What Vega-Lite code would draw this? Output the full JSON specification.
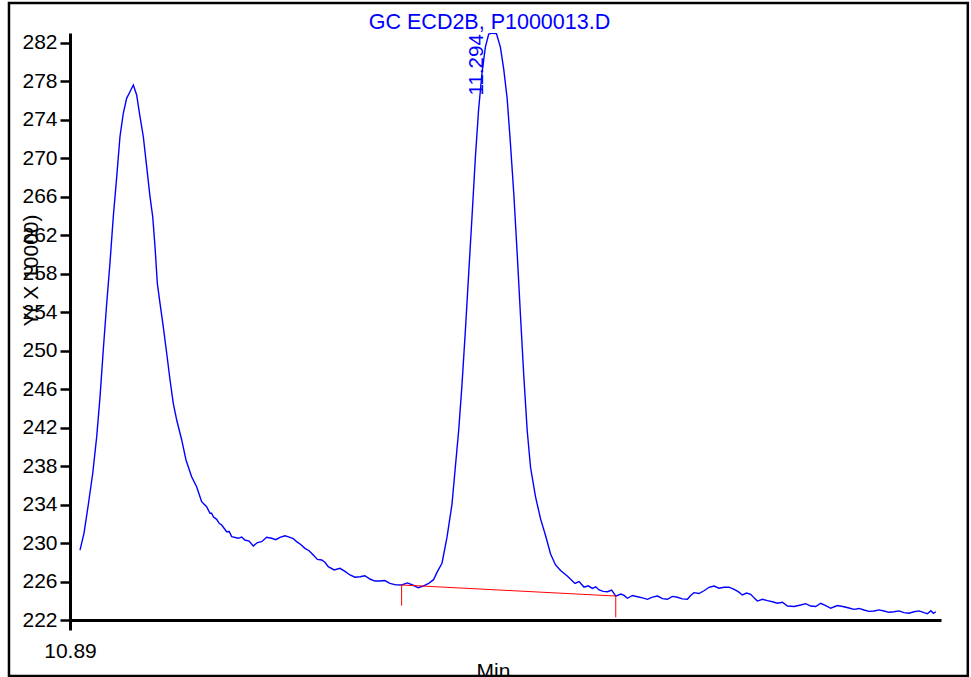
{
  "$schema": "https://vega.github.io/schema/vega-lite/v6.json",
  "width": 871,
  "height": 587,
  "autosize": "none",
  "padding": {"left": 70, "top": 33, "right": 30, "bottom": 57},
  "background": "white",
  "config": {"view": {"stroke": null}, "font": "Liberation Sans"},
  "resolve": {"axis": {"x": "independent"}},
  "datasets": {
    "signal": [
      {"t": 10.8996, "v": 229.27}, {"t": 10.9034, "v": 231.01}, {"t": 10.9075, "v": 233.95}, {"t": 10.9118, "v": 237.25},
      {"t": 10.9156, "v": 241.05}, {"t": 10.9188, "v": 245.21}, {"t": 10.9219, "v": 250.06}, {"t": 10.9252, "v": 254.91},
      {"t": 10.9283, "v": 259.07}, {"t": 10.9315, "v": 263.91}, {"t": 10.9348, "v": 268.07}, {"t": 10.9379, "v": 272.22},
      {"t": 10.9411, "v": 274.66}, {"t": 10.9443, "v": 276.21}, {"t": 10.9475, "v": 276.90}, {"t": 10.9507, "v": 277.60},
      {"t": 10.9539, "v": 276.56}, {"t": 10.9571, "v": 274.30}, {"t": 10.9603, "v": 272.22}, {"t": 10.9635, "v": 269.11},
      {"t": 10.9667, "v": 265.99}, {"t": 10.9693, "v": 263.91}, {"t": 10.9715, "v": 260.79}, {"t": 10.9737, "v": 256.99},
      {"t": 10.9763, "v": 254.91}, {"t": 10.9794, "v": 252.48}, {"t": 10.9827, "v": 249.72}, {"t": 10.9859, "v": 246.94},
      {"t": 10.9890, "v": 244.52}, {"t": 10.9923, "v": 242.78}, {"t": 10.9971, "v": 240.71}, {"t": 11.0012, "v": 238.63},
      {"t": 11.0066, "v": 236.89}, {"t": 11.0114, "v": 235.85}, {"t": 11.0162, "v": 234.29}, {"t": 11.0210, "v": 233.77},
      {"t": 11.0242, "v": 233.09}, {"t": 11.0258, "v": 233.10}, {"t": 11.0274, "v": 232.73}, {"t": 11.0306, "v": 232.46},
      {"t": 11.0330, "v": 232.05}, {"t": 11.0354, "v": 231.87}, {"t": 11.0402, "v": 231.18}, {"t": 11.0426, "v": 231.20},
      {"t": 11.0450, "v": 230.66}, {"t": 11.0513, "v": 230.49}, {"t": 11.0545, "v": 230.62}, {"t": 11.0577, "v": 230.31},
      {"t": 11.0617, "v": 230.20}, {"t": 11.0657, "v": 229.69}, {"t": 11.0697, "v": 230.05}, {"t": 11.0737, "v": 230.14},
      {"t": 11.0785, "v": 230.60}, {"t": 11.0833, "v": 230.49}, {"t": 11.0873, "v": 230.35}, {"t": 11.0913, "v": 230.59},
      {"t": 11.0961, "v": 230.75}, {"t": 11.1009, "v": 230.59}, {"t": 11.1041, "v": 230.45}, {"t": 11.1073, "v": 230.14},
      {"t": 11.1112, "v": 229.85}, {"t": 11.1152, "v": 229.45}, {"t": 11.1192, "v": 229.20}, {"t": 11.1232, "v": 228.75},
      {"t": 11.1272, "v": 228.30}, {"t": 11.1313, "v": 228.24}, {"t": 11.1344, "v": 228.00}, {"t": 11.1376, "v": 227.54},
      {"t": 11.1432, "v": 227.20}, {"t": 11.1488, "v": 227.37}, {"t": 11.1536, "v": 227.05}, {"t": 11.1584, "v": 226.68},
      {"t": 11.1632, "v": 226.45}, {"t": 11.1680, "v": 226.50}, {"t": 11.1727, "v": 226.60}, {"t": 11.1775, "v": 226.26},
      {"t": 11.1823, "v": 226.05}, {"t": 11.1871, "v": 226.05}, {"t": 11.1919, "v": 226.10}, {"t": 11.1967, "v": 225.81},
      {"t": 11.2023, "v": 225.65}, {"t": 11.2079, "v": 225.64}, {"t": 11.2135, "v": 225.85}, {"t": 11.2190, "v": 225.61},
      {"t": 11.2238, "v": 225.35}, {"t": 11.2286, "v": 225.53}, {"t": 11.2338, "v": 225.80}, {"t": 11.2385, "v": 226.19},
      {"t": 11.2418, "v": 226.95}, {"t": 11.2466, "v": 227.90}, {"t": 11.2514, "v": 230.58}, {"t": 11.2562, "v": 234.03},
      {"t": 11.2594, "v": 237.87}, {"t": 11.2626, "v": 241.69}, {"t": 11.2657, "v": 246.30}, {"t": 11.2690, "v": 252.03},
      {"t": 11.2721, "v": 257.79}, {"t": 11.2754, "v": 263.91}, {"t": 11.2786, "v": 270.04}, {"t": 11.2817, "v": 275.02},
      {"t": 11.2850, "v": 278.85}, {"t": 11.2882, "v": 281.54}, {"t": 11.2914, "v": 282.88}, {"t": 11.2946, "v": 282.98},
      {"t": 11.2988, "v": 282.95}, {"t": 11.3026, "v": 281.54}, {"t": 11.3058, "v": 279.24}, {"t": 11.3091, "v": 276.17},
      {"t": 11.3122, "v": 271.57}, {"t": 11.3155, "v": 266.21}, {"t": 11.3187, "v": 260.09}, {"t": 11.3219, "v": 253.57},
      {"t": 11.3250, "v": 247.44}, {"t": 11.3283, "v": 241.69}, {"t": 11.3315, "v": 237.87}, {"t": 11.3363, "v": 234.80},
      {"t": 11.3411, "v": 232.51}, {"t": 11.3459, "v": 230.78}, {"t": 11.3507, "v": 228.86}, {"t": 11.3555, "v": 227.72},
      {"t": 11.3603, "v": 227.14}, {"t": 11.3667, "v": 226.57}, {"t": 11.3741, "v": 225.80}, {"t": 11.3780, "v": 225.99},
      {"t": 11.3828, "v": 225.42}, {"t": 11.3868, "v": 225.55}, {"t": 11.3908, "v": 225.29}, {"t": 11.3940, "v": 225.45},
      {"t": 11.3972, "v": 225.12}, {"t": 11.4012, "v": 224.98}, {"t": 11.4053, "v": 224.94}, {"t": 11.4093, "v": 225.10},
      {"t": 11.4132, "v": 224.49}, {"t": 11.4180, "v": 224.70}, {"t": 11.4212, "v": 224.55}, {"t": 11.4244, "v": 224.26},
      {"t": 11.4292, "v": 224.55}, {"t": 11.4340, "v": 224.42}, {"t": 11.4388, "v": 224.30}, {"t": 11.4436, "v": 224.15},
      {"t": 11.4484, "v": 224.38}, {"t": 11.4532, "v": 224.49}, {"t": 11.4580, "v": 224.22}, {"t": 11.4627, "v": 224.15},
      {"t": 11.4675, "v": 224.45}, {"t": 11.4723, "v": 224.36}, {"t": 11.4771, "v": 224.20}, {"t": 11.4819, "v": 224.15},
      {"t": 11.4850, "v": 224.55}, {"t": 11.4882, "v": 224.84}, {"t": 11.4930, "v": 224.75}, {"t": 11.4978, "v": 225.04},
      {"t": 11.5026, "v": 225.40}, {"t": 11.5074, "v": 225.53}, {"t": 11.5122, "v": 225.30}, {"t": 11.5170, "v": 225.40},
      {"t": 11.5218, "v": 225.42}, {"t": 11.5266, "v": 225.19}, {"t": 11.5306, "v": 224.95}, {"t": 11.5346, "v": 224.60},
      {"t": 11.5386, "v": 224.80}, {"t": 11.5426, "v": 224.67}, {"t": 11.5458, "v": 224.30}, {"t": 11.5490, "v": 223.97},
      {"t": 11.5538, "v": 224.15}, {"t": 11.5586, "v": 224.01}, {"t": 11.5634, "v": 223.90}, {"t": 11.5682, "v": 223.74},
      {"t": 11.5730, "v": 223.85}, {"t": 11.5778, "v": 223.45}, {"t": 11.5842, "v": 223.40}, {"t": 11.5905, "v": 223.56},
      {"t": 11.5953, "v": 223.70}, {"t": 11.6001, "v": 223.45}, {"t": 11.6049, "v": 223.40}, {"t": 11.6097, "v": 223.74},
      {"t": 11.6145, "v": 223.50}, {"t": 11.6193, "v": 223.22}, {"t": 11.6256, "v": 223.50}, {"t": 11.6320, "v": 223.38},
      {"t": 11.6368, "v": 223.25}, {"t": 11.6416, "v": 223.11}, {"t": 11.6464, "v": 223.20}, {"t": 11.6512, "v": 223.04},
      {"t": 11.6560, "v": 222.90}, {"t": 11.6608, "v": 222.94}, {"t": 11.6656, "v": 223.05}, {"t": 11.6704, "v": 222.94},
      {"t": 11.6752, "v": 222.80}, {"t": 11.6800, "v": 222.86}, {"t": 11.6848, "v": 222.95}, {"t": 11.6895, "v": 222.76},
      {"t": 11.6943, "v": 222.70}, {"t": 11.6991, "v": 222.86}, {"t": 11.7039, "v": 222.95}, {"t": 11.7087, "v": 222.76},
      {"t": 11.7120, "v": 222.65}, {"t": 11.7153, "v": 222.97}, {"t": 11.7177, "v": 222.70}, {"t": 11.7201, "v": 222.86}
    ],
    "baseline": [
      {"t1": 11.2079, "v1": 225.64, "t2": 11.4132, "v2": 224.49},
      {"t1": 11.2079, "v1": 225.64, "t2": 11.2079, "v2": 223.49},
      {"t1": 11.4132, "v1": 224.49, "t2": 11.4132, "v2": 222.28}
    ],
    "peaks": [
      {"rt": 11.294, "height": 282.98, "label": "11.294"}
    ]
  },
  "layer": [
    {
      "data": {"name": "signal"},
      "mark": {"type": "line", "color": "#0000ff", "strokeWidth": 1.4, "interpolate": "linear", "clip": true},
      "encoding": {
        "x": {
          "field": "t", "type": "quantitative",
          "scale": {"domain": [10.89, 11.725], "nice": false, "zero": false},
          "axis": {
            "orient": "bottom",
            "values": [10.89], "format": ".2f", "title": "Min",
            "titleFontSize": 21, "titleFontWeight": "normal", "titleColor": "black", "titleFont": "Liberation Sans",
            "titleBaseline": "alphabetic", "titleAlign": "center", "titleX": 423, "titleY": 57,
            "labelFontSize": 21, "labelFont": "Liberation Sans", "labelColor": "black", "labelFlush": false, "labelDx": 6, "labelPadding": 10,
            "labelOverlap": false, "labelBound": false,
            "tickSize": 10, "tickWidth": 3, "tickColor": "black", "domainWidth": 3, "domainColor": "black", "grid": false
          }
        },
        "y": {
          "field": "v", "type": "quantitative",
          "scale": {"domain": [222, 283], "nice": false, "zero": false},
          "axis": {
            "values": [222, 226, 230, 234, 238, 242, 246, 250, 254, 258, 262, 266, 270, 274, 278, 282],
            "tickCount": 40,
            "title": "Y( X 10000)",
            "titleFontSize": 21, "titleFontWeight": "normal", "titleColor": "black", "titleFont": "Liberation Sans",
            "titleAngle": 270, "titleBaseline": "alphabetic", "titleAlign": "center", "titleX": -33, "titleY": 237,
            "labelFontSize": 21, "labelFont": "Liberation Sans", "labelColor": "black", "labelPadding": 3,
            "labelOverlap": false, "labelBound": false, "labelFlush": false,
            "tickSize": 10, "tickWidth": 2.5, "tickColor": "black", "domainWidth": 3, "domainColor": "black", "grid": false
          }
        }
      }
    },
    {
      "data": {"name": "baseline"},
      "mark": {"type": "rule", "color": "#ff0000", "strokeWidth": 1},
      "encoding": {
        "x": {"field": "t1", "type": "quantitative", "axis": null},
        "y": {"field": "v1", "type": "quantitative"},
        "x2": {"field": "t2"},
        "y2": {"field": "v2"}
      }
    },
    {
      "data": {"name": "peaks"},
      "mark": {"type": "text", "color": "#0000ff", "fontSize": 20.5, "font": "Liberation Sans", "angle": 270, "align": "right", "baseline": "alphabetic", "dx": -1, "dy": -8, "clip": false},
      "encoding": {
        "x": {
          "field": "rt", "type": "quantitative",
          "axis": {
            "orient": "top", "domain": false, "ticks": false, "labels": false, "grid": false,
            "title": "GC ECD2B, P1000013.D",
            "titleColor": "#0000ff", "titleFontSize": 21.5, "titleFontWeight": "normal", "titleFont": "Liberation Sans",
            "titleBaseline": "alphabetic", "titleAlign": "center", "titleX": 419, "titleY": -5
          }
        },
        "y": {"field": "height", "type": "quantitative"},
        "text": {"field": "label"}
      }
    },
    {
      "data": {"values": [{}]},
      "mark": {"type": "rect", "fill": "transparent", "stroke": "black", "strokeWidth": 2.5, "clip": false},
      "encoding": {
        "x": {"datum": 10.8315, "type": "quantitative", "axis": null},
        "x2": {"datum": 11.7507},
        "y": {"datum": 286.12, "type": "quantitative"},
        "y2": {"datum": 216.18}
      }
    }
  ]
}
